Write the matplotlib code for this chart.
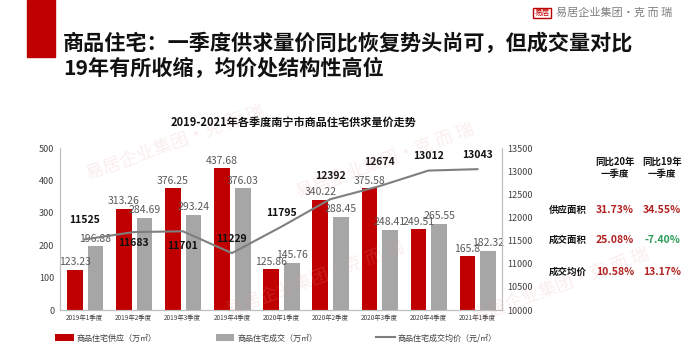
import numpy as np
import matplotlib
matplotlib.use("Agg")
import matplotlib.pyplot as plt
from matplotlib.patches import Rectangle

plt.rcParams['font.family'] = ['Noto Sans CJK SC', 'DejaVu Sans']

# data
quarters = ["2019年1季度", "2019年2季度", "2019年3季度", "2019年4季度", "2020年1季度",
            "2020年2季度", "2020年3季度", "2020年4季度", "2021年1季度"]
supply = [123.23, 313.26, 376.25, 437.68, 125.86, 340.22, 375.58, 249.51, 165.8]
deal = [196.88, 284.69, 293.24, 376.03, 145.76, 288.45, 248.41, 265.55, 182.32]
price = [11525, 11683, 11701, 11229, 11795, 12392, 12674, 13012, 13043]
# label offset (pixels) for the price labels: above or below the line
price_label_dy = [19, -11, -15, 14, 14, 23, 24, 15, 14]

table_cols = ["同比20年\n一季度", "同比19年\n一季度"]
table_rows = ["供应面积", "成交面积", "成交均价"]
table_vals = [["31.73%", "34.55%"], ["25.08%", "-7.40%"], ["10.58%", "13.17%"]]

RED = "#C00000"
GREY = "#A6A6A6"
LINE = "#7F7F7F"
TXT = "#595959"

fig = plt.figure(figsize=(7.0, 3.58), dpi=100)
fig.patch.set_facecolor("white")

# header decoration
fig.patches.append(Rectangle((27 / 700, 1 - 57 / 358), 28 / 700, 57 / 358,
                             transform=fig.transFigure, color=RED, zorder=1))
fig.text(63 / 700, 1 - 43 / 358, "商品住宅：一季度供求量价同比恢复势头尚可，但成交量对比",
         fontsize=15.2, fontweight="bold", color="#111111", va="center", ha="left")
fig.text(63 / 700, 1 - 68 / 358, "19年有所收缩，均价处结构性高位",
         fontsize=15.2, fontweight="bold", color="#111111", va="center", ha="left")

# logo top right
fig.text(542 / 700, 1 - 13 / 358, "易居", fontsize=5.5, color=RED, ha="center", va="center",
         bbox=dict(boxstyle="square,pad=0.15", fc="white", ec=RED, lw=1.0))
fig.text(556 / 700, 1 - 13 / 358, "易居企业集团·克 而 瑞", fontsize=8, color="#7F7F7F",
         ha="left", va="center")

# faint watermarks
for (wx, wy) in [(0.25, 0.60), (0.55, 0.55), (0.45, 0.22), (0.80, 0.20)]:
    fig.text(wx, wy, "易居企业集团·克 而 瑞", fontsize=13, color="#E6A0A0", alpha=0.18,
             rotation=20, ha="center", va="center", zorder=0)

ax = fig.add_axes([60 / 700, 1 - 310 / 358, 442 / 700, 162 / 358])
ax2 = ax.twinx()

x = np.arange(len(quarters))
w = 0.32
b1 = ax.bar(x - 0.2, supply, w, color=RED, label="商品住宅供应（万㎡）", zorder=2)
b2 = ax.bar(x + 0.22, deal, w, color=GREY, label="商品住宅成交（万㎡）", zorder=2)

for xi, v in zip(x - 0.2, supply):
    ax.text(xi, v + 8, f"{v:g}", ha="center", va="bottom", fontsize=7.5, color=TXT, zorder=3)
for xi, v in zip(x + 0.22, deal):
    ax.text(xi, v + 8, f"{v:g}", ha="center", va="bottom", fontsize=7.5, color=TXT, zorder=3)

ax.set_xlim(-0.5, len(quarters) - 0.5)
ax.set_ylim(0, 500)
ax.set_yticks(range(0, 501, 100))
ax.set_xticks(x)
ax.set_xticklabels(quarters)

ln, = ax2.plot(x, price, color=LINE, lw=1.5, label="商品住宅成交均价（元/㎡）", zorder=4)
for xi, v, dy in zip(x, price, price_label_dy):
    ax2.annotate(f"{v}", (xi, v), xytext=(0, dy), textcoords="offset pixels",
                 ha="center", va="center", fontsize=7.5, fontweight="bold", color="#111111")
ax2.set_ylim(10000, 13500)
ax2.set_yticks(range(10000, 13501, 500))

for a in (ax, ax2):
    a.tick_params(length=0, labelsize=6.5, labelcolor="#404040", pad=4)
    for s in a.spines.values():
        s.set_color("#BFBFBF")
        s.set_linewidth(0.8)
    a.spines["top"].set_visible(False)
    a.set_facecolor("none")
ax.tick_params(axis="x", labelsize=4.6, pad=3)

fig.text(294 / 700, 1 - 122 / 358, "2019-2021年各季度南宁市商品住宅供求量价走势",
         fontsize=8, fontweight="bold", color="#111111", ha="center", va="center")

# legend
fig.legend(handles=[b1, b2, ln], loc="center left", bbox_to_anchor=(55 / 700, 1 - 338 / 358),
           ncol=3, frameon=False, fontsize=5.8, labelcolor="#404040", borderpad=0,
           borderaxespad=0, handlelength=2.3, handleheight=0.9, columnspacing=7.3,
           handletextpad=0.4)

# right side table
col_x = [615 / 700, 662 / 700]
for cx, head in zip(col_x, table_cols):
    fig.text(cx, 1 - 168 / 358, head, fontsize=6.8, fontweight="bold", color="#111111",
             ha="center", va="center", linespacing=1.3)
row_y = [210, 240, 272]
for ry, name, vals in zip(row_y, table_rows, table_vals):
    fig.text(568 / 700, 1 - ry / 358, name, fontsize=6.8, fontweight="bold", color="#111111",
             ha="center", va="center")
    for cx, v in zip(col_x, vals):
        c = "#2E9E5B" if v.startswith("-") else "#B22222"
        fig.text(cx, 1 - ry / 358, v, fontsize=7.5, fontweight="bold", color=c,
                 ha="center", va="center")

fig.savefig("out.png", dpi=100)
